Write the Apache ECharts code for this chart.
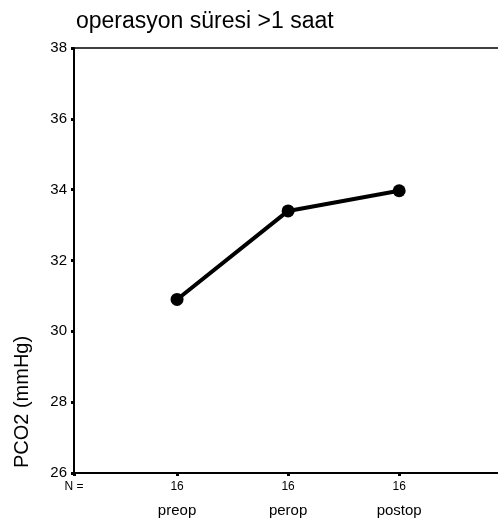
<!DOCTYPE html>
<html><head><meta charset="utf-8">
<script src="https://cdn.jsdelivr.net/npm/echarts@6/dist/echarts.min.js"></script>
<style>html,body{margin:0;padding:0;background:#fff}#c{width:498px;height:529px}</style>
</head><body><div id="c"></div>
<script>
const categories = ['preop', 'perop', 'postop'];
const nValues = [16, 16, 16];
const pco2 = [30.9, 33.4, 33.97];
const yTicks = [26, 28, 30, 32, 34, 36, 38];
const titleText = 'operasyon süresi >1 saat';
const yName = 'PCO2 (mmHg)';

const xMin = 0.072, xMax = 3.89;
const chart = echarts.init(document.getElementById('c'), null, {renderer: 'canvas'});
const font = 'Liberation Sans, Arial, sans-serif';
chart.setOption({
  animation: false,
  title: {text: titleText, left: 71, top: 5, textStyle: {fontFamily: font, fontSize: 23, fontWeight: 'normal', color: '#000'}},
  grid: {left: 74, top: 48, bottom: 56, right: 0, containLabel: false},
  graphic: [{
    type: 'text', x: 22, y: 402, rotation: Math.PI / 2,
    style: {text: yName, fontFamily: font, fontSize: 20, fill: '#000', align: 'center', verticalAlign: 'middle'}
  }],
  xAxis: [{
    type: 'value', min: xMin, max: xMax,
    axisLine: {show: true, onZero: false, lineStyle: {color: '#000', width: 2}},
    splitLine: {show: false},
    axisTick: {show: true, customValues: [xMin, 1, 2, 3], length: 3, lineStyle: {color: '#000', width: 3}},
    axisLabel: {
      show: true, customValues: [xMin, 1, 2, 3], margin: 6, color: '#000', fontFamily: font,
      formatter: function (v) {
        if (v < 0.5) return '{n|N =}\n{c| }';
        const i = Math.round(v) - 1;
        return '{n|' + nValues[i] + '}\n{c|' + categories[i] + '}';
      },
      rich: {
        n: {fontSize: 12, lineHeight: 16, fontFamily: font, color: '#000'},
        c: {fontSize: 15, lineHeight: 32, fontFamily: font, color: '#000'}
      }
    }
  }, {
    type: 'value', position: 'top', min: xMin, max: xMax,
    axisLine: {show: true, onZero: false, lineStyle: {color: '#000', width: 1.5}},
    splitLine: {show: false}, axisTick: {show: false}, axisLabel: {show: false}
  }],
  yAxis: {
    type: 'value', min: yTicks[0], max: yTicks[yTicks.length - 1], interval: 2,
    axisLine: {show: true, lineStyle: {color: '#000', width: 2}},
    splitLine: {show: false},
    axisTick: {show: true, length: 3, lineStyle: {color: '#000', width: 3}},
    axisLabel: {color: '#000', fontFamily: font, fontSize: 15, margin: 7}
  },
  series: [{
    type: 'line',
    data: pco2.map((v, i) => [i + 1, v]),
    symbol: 'circle', symbolSize: 13,
    lineStyle: {color: '#000', width: 4},
    itemStyle: {color: '#000'}
  }]
});
</script></body></html>
